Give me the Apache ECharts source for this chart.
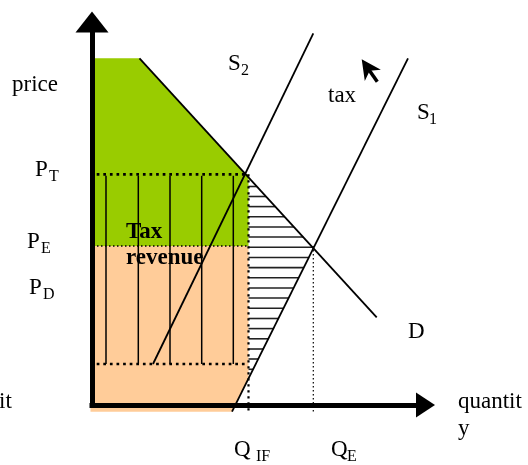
<!DOCTYPE html>
<html>
<head>
<meta charset="utf-8">
<script src="https://cdn.jsdelivr.net/npm/echarts@6/dist/echarts.min.js"></script>
<style>
  html, body { margin: 0; padding: 0; background: #fff; }
  #e1 { width: 528px; height: 465px; }
</style>
</head>
<body>
<div id="e1"></div>
<script>
// price levels: P_T, P_E, P_D
const priceLevels = [23.07, 15.9, 4.1];
// quantities: Q_IF, Q_E
const quantityLevels = [15.65, 22.13];
// curves (end points)
const demandLine = [[4.75, 34.67], [28.47, 8.77]];
const supply1Line = [[14.0, -0.67], [31.6, 34.67]];
const supply2Line = [[6.1, 4.1], [22.13, 37.17]];
// shaded areas
const greenArea = [[0, 34.67], [4.75, 34.67], [15.37, 23.07], [15.65, 23.07], [15.65, 15.9], [0, 15.9]];
const peachArea = [[-0.15, 15.9], [15.65, 15.9], [15.65, 2.64], [14.0, -0.67], [-0.15, -0.67]];
// hatching: horizontal levels in the triangle, vertical columns in the tax box
const hatchLevels = [21.85, 20.85, 19.84, 18.82, 17.8, 16.8, 15.77, 14.75, 13.74, 12.72, 11.7, 10.7, 9.67, 8.65, 7.64, 6.62, 5.6, 4.6, 3.57, 2.75];
const hatchColumns = [1.4, 4.63, 7.8, 10.97, 14.13];
// "tax" arrow: tip and tail end
const taxArrow = [[26.97, 34.57], [28.53, 32.33]];

const xMax = 33.35, yMax = 38.3;
const FONT = '"Liberation Serif", "Times New Roman", serif';

function xOnLine(line, y) {
  let a = line[0], b = line[1];
  return a[0] + (y - a[1]) * (b[0] - a[0]) / (b[1] - a[1]);
}

function polySeries(points, color, z) {
  return {
    type: 'custom', coordinateSystem: 'cartesian2d', silent: true, z: z, data: [[0, 0]],
    renderItem: function (params, api) {
      return { type: 'polygon', shape: { points: points.map(p => api.coord(p)) }, style: { fill: color } };
    }
  };
}

function seg(data, width, dash, z) {
  return {
    type: 'line', data: data, symbol: 'none', clip: false, silent: true, z: z || 5,
    lineStyle: { color: '#000', width: width, type: dash || 'solid' }
  };
}

// text: x, baseline, string, size, bold
function txt(x, base, s, size, bold) {
  size = size || 23;
  return {
    type: 'text', x: x, y: base - 0.34 * size, z: 100, silent: true,
    style: {
      text: s, fill: '#000', align: 'left', verticalAlign: 'middle',
      textAlign: 'left', textVerticalAlign: 'middle',
      font: (bold ? 'bold ' : '') + size + 'px ' + FONT
    }
  };
}

let myChart = echarts.init(document.getElementById('e1'));
let PT = priceLevels[0], PE = priceLevels[1], PD = priceLevels[2];
let QIF = quantityLevels[0], QE = quantityLevels[1];

let option = {
  animation: false,
  backgroundColor: '#fff',
  grid: { left: 92, top: 22, right: 102.5, bottom: 60, containLabel: false, outerBoundsMode: 'none' },
  xAxis: {
    type: 'value', min: 0, max: xMax, z: 10,
    axisLine: { show: true, symbol: ['none', 'triangle'], symbolSize: [25, 19],
      lineStyle: { color: '#000', width: 5, cap: 'square' } },
    axisTick: { show: false }, axisLabel: { show: false }, splitLine: { show: false }
  },
  yAxis: {
    type: 'value', min: 0, max: yMax, z: 10,
    axisLine: { show: true, symbol: ['none', 'triangle'], symbolSize: [33, 21],
      lineStyle: { color: '#000', width: 5, cap: 'square' } },
    axisTick: { show: false }, axisLabel: { show: false }, splitLine: { show: false }
  },
  series: [
    polySeries(peachArea, '#ffcc99', 1),
    polySeries(greenArea, '#99cc00', 1),
    {
      // horizontal hatching between Q_IF, demand and S1
      type: 'custom', coordinateSystem: 'cartesian2d', silent: true, z: 3, data: [[0, 0]],
      renderItem: function (params, api) {
        let children = [];
        hatchLevels.forEach(y => {
          let xr = Math.min(xOnLine(demandLine, y), xOnLine(supply1Line, y));
          if (xr <= QIF) return;
          let p1 = api.coord([QIF, y]), p2 = api.coord([xr, y]);
          children.push({ type: 'line', shape: { x1: p1[0], y1: p1[1], x2: p2[0], y2: p2[1] },
            style: { stroke: '#222', lineWidth: 1.6 } });
        });
        return { type: 'group', children: children };
      }
    },
    {
      // vertical lines in the tax revenue box
      type: 'custom', coordinateSystem: 'cartesian2d', silent: true, z: 3, data: [[0, 0]],
      renderItem: function (params, api) {
        return {
          type: 'group',
          children: hatchColumns.map(x => {
            let p1 = api.coord([x, PT - 0.15]), p2 = api.coord([x, PD]);
            return { type: 'line', shape: { x1: p1[0], y1: p1[1], x2: p2[0], y2: p2[1] },
              style: { stroke: '#000', lineWidth: 1.5 } };
          })
        };
      }
    },
    // dotted guides
    seg([[0.47, PT], [QIF, PT]], 2.7, [2.7, 3.9], 4),
    seg([[0.47, PD], [QIF, PD]], 2.7, [2.7, 3.9], 4),
    seg([[0.1, PE], [QIF, PE]], 1.3, [1.5, 2.5], 4),
    seg([[QIF, PT], [QIF, -0.7]], 2.2, [2.2, 3.8], 4),
    seg([[QE, PE], [QE, -0.8]], 1.2, [1.5, 2.5], 4),
    // demand and supply
    seg(demandLine, 1.8),
    seg(supply1Line, 1.8),
    seg(supply2Line, 1.8),
    {
      // cursor-like "tax" arrow: head at the tip, short tail
      type: 'custom', coordinateSystem: 'cartesian2d', silent: true, z: 6, data: [[0, 0]],
      renderItem: function (params, api) {
        let tip = api.coord(taxArrow[0]), end = api.coord(taxArrow[1]);
        let len = Math.hypot(end[0] - tip[0], end[1] - tip[1]);
        let d = [(end[0] - tip[0]) / len, (end[1] - tip[1]) / len];
        let n = [d[1], -d[0]];
        let at = (a, b) => [tip[0] + a * d[0] + b * n[0], tip[1] + a * d[1] + b * n[1]];
        return {
          type: 'group',
          children: [
            { type: 'polygon', shape: { points: [at(0, 0), at(19.5, 9.8), at(14, 0), at(19.5, -9.8)] },
              style: { fill: '#000' } },
            { type: 'line', shape: { x1: at(12, 0)[0], y1: at(12, 0)[1], x2: end[0], y2: end[1] },
              style: { stroke: '#000', lineWidth: 3.5 } }
          ]
        };
      }
    }
  ],
  graphic: {
    elements: [
      txt(12, 93, 'price'),
      txt(35, 178, 'P'), txt(49, 182, 'T', 16),
      txt(27, 250, 'P'), txt(41, 254, 'E', 16),
      txt(29, 296, 'P'), txt(43, 300, 'D', 16),
      txt(-1, 410, 'it'),
      txt(228, 72, 'S'), txt(241, 76, '2', 16),
      txt(328, 104, 'tax'),
      txt(417, 121, 'S'), txt(429, 125, '1', 16),
      txt(408, 340, 'D'),
      txt(234, 458, 'Q'), txt(256, 462, 'IF', 16),
      txt(331, 458, 'Q'), txt(347, 462, 'E', 16),
      txt(458, 410, 'quantit'),
      txt(458, 437, 'y'),
      txt(126, 240, 'Tax', 23, true),
      txt(126, 266, 'revenue', 23, true)
    ]
  }
};
myChart.setOption(option);
</script>
</body>
</html>
